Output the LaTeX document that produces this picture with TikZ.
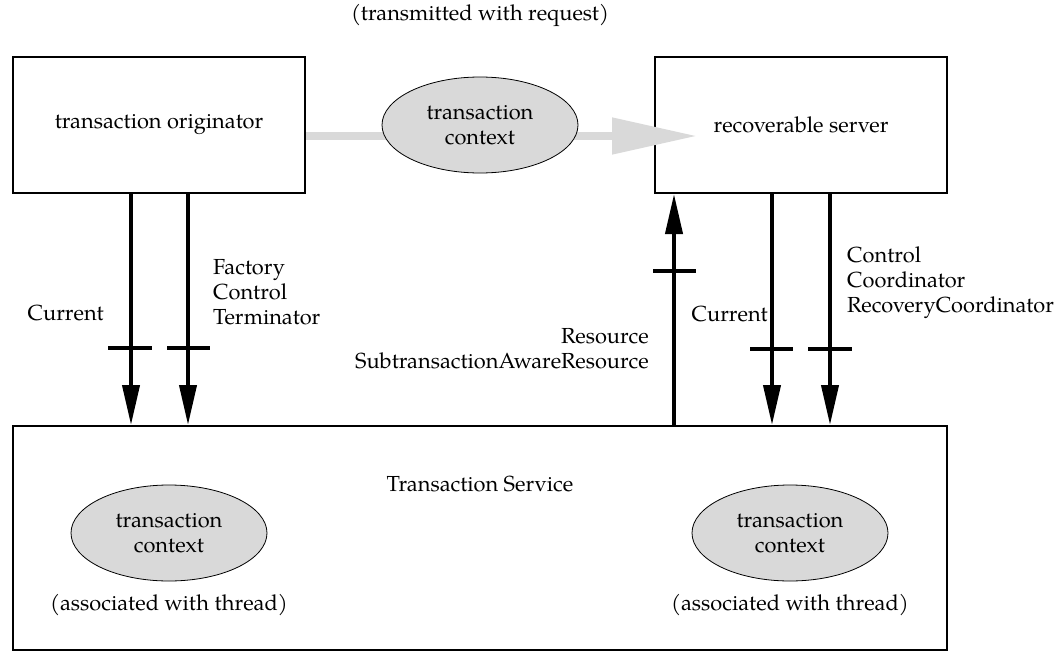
\documentclass[tikz,border=0pt]{standalone}
\usepackage{fontspec}
\setmainfont{texgyrepagella-regular.otf}
\usetikzlibrary{arrows.meta,shapes.geometric}
\definecolor{ctxgray}{RGB}{217,217,217}
\begin{document}
\begin{tikzpicture}[x=1pt,y=-1pt,
  every node/.style={font=\fontsize{21.8}{25}\selectfont, inner sep=0pt},
  box/.style={draw, line width=2pt},
  ctx/.style={ellipse, draw, line width=0.8pt, fill=ctxgray, minimum width=196pt, minimum height=96pt, align=center},
  iface/.style={line width=4pt, -{Triangle[length=40pt,width=17pt]}},
  tickbar/.style={line width=4pt},
  flow/.style={draw=ctxgray, line width=8pt, -{Triangle[length=85pt,width=35pt]}}
]
\useasboundingbox (0,0) rectangle (1061,656);

% boxes
\node[box, minimum width=292pt, minimum height=136pt] (orig) at (159,125) {transaction originator};
\node[box, minimum width=292pt, minimum height=136pt] (srv) at (801,125) {recoverable server};
\node[box, minimum width=934pt, minimum height=224pt] (svc) at (480,538) {};
\node (svclbl) at (480,484) {Transaction Service};

% request flow
\node (req) at (480,15) {(transmitted with request)};
\coordinate (gtip) at (697,136);
\draw[flow] ([yshift=-11pt]orig.east) -- (gtip);
\node[ctx] (ctxtop) at (480,125) {transaction\\context};

% context ellipses in service
\node[ctx] (ctxl) at (169,533) {transaction\\context};
\node (assocl) at (169,605) {(associated with thread)};
\node[ctx] (ctxr) at (790,533) {transaction\\context};
\node (assocr) at (790,605) {(associated with thread)};

% interface arrows
\coordinate (a1) at (131,0);
\coordinate (a2) at (188,0);
\coordinate (a3) at (674,0);
\coordinate (a4) at (772,0);
\coordinate (a5) at (830,0);
\draw[iface] (orig.south -| a1) -- (svc.north -| a1);
\draw[iface] (orig.south -| a2) -- (svc.north -| a2);
\draw[iface] (svc.north -| a3) -- (srv.south -| a3);
\draw[iface] (srv.south -| a4) -- (svc.north -| a4);
\draw[iface] (srv.south -| a5) -- (svc.north -| a5);

% ticks
\draw[tickbar] (108,348) -- (152,348);
\draw[tickbar] (167,348) -- (210,348);
\draw[tickbar] (653,271) -- (696,271);
\draw[tickbar] (750,349) -- (793,349);
\draw[tickbar] (808,349) -- (852,349);

% labels
\node[anchor=east] (cur1) at (104,313) {Current};
\node[anchor=west, align=left] (fct) at (213,292) {Factory\\Control\\Terminator};
\node[anchor=east, align=right] (res) at (649,349) {Resource\\SubtransactionAwareResource};
\node[anchor=east] (cur2) at (768,314) {Current};
\node[anchor=west, align=left] (ccr) at (847,283) {Control\\Coordinator\\RecoveryCoordinator};
\end{tikzpicture}
\end{document}
